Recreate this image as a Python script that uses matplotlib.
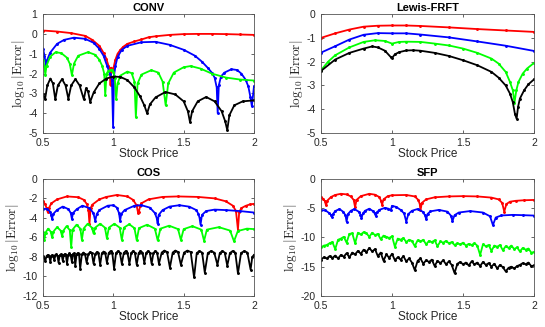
import matplotlib
matplotlib.use("Agg")
import matplotlib.pyplot as plt
import numpy as np

plt.rcParams['font.family'] = ['Liberation Sans', 'DejaVu Sans']
plt.rcParams['mathtext.fontset'] = 'cm'
plt.rcParams['axes.unicode_minus'] = False

# ---------------- CONV
conv_red_x = [0.5, 0.6, 0.7, 0.8, 0.85, 0.9, 0.93, 0.95, 0.965, 0.975, 0.98, 0.985, 0.99, 1.0, 1.013,
              1.03, 1.05, 1.07, 1.1, 1.15, 1.2, 1.25, 1.3, 1.4, 1.5, 1.6, 1.7, 1.8, 1.9, 2.0]
conv_red_y = [0.17, 0.12, 0.04, -0.1, -0.3, -0.6, -0.95, -1.25, -1.6, -1.75, -2.6, -1.7, -1.8, -1.75, -1.33,
              -1.0, -0.8, -0.65, -0.5, -0.38, -0.28, -0.17, -0.12, -0.05, -0.01, 0.0, 0.0, -0.01, -0.03, -0.05]

conv_blue_x = [0.5, 0.51, 0.52, 0.53, 0.55, 0.6, 0.65, 0.72, 0.8, 0.86, 0.9, 0.93, 0.955, 0.975, 0.99,
               0.998, 1.005, 1.015, 1.03, 1.06, 1.1, 1.2, 1.3, 1.4, 1.5, 1.58, 1.63, 1.67, 1.7, 1.72,
               1.735, 1.742, 1.75, 1.765, 1.79, 1.84, 1.88, 1.91, 1.94, 1.96, 1.975, 1.985, 2.0]
conv_blue_y = [-0.74, -1.1, -1.55, -1.3, -0.95, -0.5, -0.3, -0.19, -0.25, -0.45, -0.75, -1.1, -1.6, -2.0, -2.3,
               -4.7, -2.1, -1.6, -1.16, -0.8, -0.6, -0.42, -0.4, -0.55, -0.8, -1.1, -1.4, -1.7, -1.95, -2.2,
               -2.7, -4.0, -2.6, -2.15, -1.95, -1.78, -1.82, -2.0, -2.3, -2.65, -3.2, -3.65, -2.65]

conv_green_x = [0.5, 0.508, 0.516, 0.525, 0.55, 0.59, 0.63, 0.67, 0.69, 0.705, 0.72, 0.75, 0.82, 0.87, 0.9,
                0.92, 0.935, 0.942, 0.952, 0.965, 0.977, 0.99, 1.0, 1.01, 1.02, 1.03, 1.05, 1.1, 1.13, 1.15,
                1.16, 1.172, 1.2, 1.27, 1.32, 1.35, 1.372, 1.39, 1.43, 1.5, 1.55, 1.62, 1.7, 1.8, 1.9, 2.0]
conv_green_y = [-1.3, -1.6, -2.05, -1.6, -1.15, -0.92, -0.97, -1.2, -1.5, -2.08, -1.5, -1.1, -0.92, -1.05, -1.3,
                -1.6, -2.0, -3.1, -2.0, -1.85, -1.83, -1.8, -1.9, -2.2, -3.27, -2.5, -2.1, -1.9, -1.98, -2.4,
                -4.2, -2.5, -2.05, -1.83, -1.95, -2.4, -3.6, -2.5, -1.95, -1.68, -1.62, -1.75, -2.0, -2.2, -2.3, -2.35]

conv_black_x = [0.5, 0.514, 0.53, 0.552, 0.57, 0.587, 0.605, 0.635, 0.66, 0.68, 0.7, 0.73, 0.76, 0.79, 0.805,
                0.82, 0.835, 0.86, 0.9, 0.95, 1.0, 1.05, 1.1, 1.15, 1.19, 1.22, 1.24, 1.26, 1.3, 1.37,
                1.44, 1.5, 1.53, 1.545, 1.56, 1.6, 1.66, 1.72, 1.77, 1.795, 1.81, 1.825, 1.86, 1.92, 2.0]
conv_black_y = [-3.05, -3.3, -2.6, -2.25, -2.5, -3.3, -2.6, -2.28, -2.6, -3.27, -2.6, -2.28, -2.6, -3.3, -2.75,
                -2.9, -3.43, -2.95, -2.5, -2.25, -2.15, -2.17, -2.33, -2.7, -3.15, -3.6, -4.0, -3.55, -3.2, -2.93,
                -3.05, -3.4, -3.9, -4.45, -3.9, -3.4, -3.18, -3.4, -3.9, -4.4, -4.85, -4.1, -3.6, -3.4, -3.35]

# ---------------- Lewis-FRFT
lew_rb_x = [0.5, 0.6, 0.7, 0.8, 0.9, 1.0, 1.1, 1.2, 1.4, 1.6, 1.8, 2.0]
lew_red_y = [-1.0, -0.81, -0.65, -0.53, -0.49, -0.48, -0.48, -0.5, -0.56, -0.63, -0.69, -0.75]
lew_blue_y = [-1.62, -1.35, -1.07, -0.87, -0.8, -0.81, -0.81, -0.86, -0.98, -1.15, -1.33, -1.55]

lew_green_x = [0.5, 0.55, 0.6, 0.7, 0.8, 0.88, 0.95, 1.0, 1.05, 1.1, 1.2, 1.3, 1.4, 1.5, 1.6, 1.7, 1.75,
               1.8, 1.83, 1.85, 1.862, 1.875, 1.89, 1.92, 1.95, 2.0]
lew_green_y = [-2.36, -2.0, -1.73, -1.4, -1.17, -1.1, -1.13, -1.24, -1.17, -1.16, -1.17, -1.24, -1.32, -1.45,
               -1.63, -1.87, -2.08, -2.43, -2.85, -3.2, -3.72, -3.2, -2.85, -2.5, -2.29, -2.05]

lew_black_x = [0.5, 0.6, 0.7, 0.8, 0.86, 0.9, 0.95, 0.99, 1.0, 1.02, 1.05, 1.1, 1.15, 1.2, 1.3, 1.4, 1.5,
               1.6, 1.7, 1.75, 1.8, 1.83, 1.85, 1.865, 1.877, 1.887, 1.9, 1.93, 1.96, 2.0]
lew_black_y = [-2.39, -1.91, -1.63, -1.45, -1.36, -1.4, -1.54, -1.8, -1.85, -1.69, -1.6, -1.53, -1.52, -1.54,
               -1.63, -1.76, -1.94, -2.15, -2.43, -2.67, -3.0, -3.34, -3.7, -4.19, -4.4, -3.9, -3.55, -3.2,
               -2.95, -2.74]

# ---------------- COS
cos_red_x = [0.5, 0.515, 0.525, 0.533, 0.541, 0.56, 0.6, 0.67, 0.75, 0.79, 0.812, 0.823, 0.83, 0.838, 0.85,
             0.9, 0.95, 1.025, 1.1, 1.14, 1.165, 1.176, 1.182, 1.19, 1.2, 1.25, 1.35, 1.46, 1.6, 1.72,
             1.8, 1.85, 1.872, 1.886, 1.895, 1.91, 1.94, 1.97, 2.0]
cos_red_y = [-2.3, -2.6, -3.0, -3.4, -3.0, -2.5, -2.1, -1.8, -1.88, -2.15, -2.6, -3.2, -4.6, -3.0, -2.65,
             -2.1, -1.85, -1.65, -1.8, -2.15, -2.7, -3.5, -3.35, -2.8, -2.5, -2.1, -1.85, -1.8, -1.85, -2.0,
             -2.3, -2.75, -3.3, -5.2, -3.4, -3.0, -2.77, -2.62, -2.56]

cos_blue_x = [0.5, 0.53, 0.55, 0.558, 0.564, 0.572, 0.6, 0.64, 0.68, 0.697, 0.705, 0.713, 0.74, 0.78, 0.83,
              0.858, 0.871, 0.882, 0.9, 0.96, 1.0, 1.025, 1.04, 1.048, 1.056, 1.08, 1.15, 1.2, 1.26, 1.295,
              1.308, 1.315, 1.322, 1.35, 1.4, 1.47, 1.54, 1.59, 1.605, 1.613, 1.62, 1.63, 1.66, 1.72, 1.8,
              1.9, 2.0]
cos_blue_y = [-3.05, -3.1, -3.35, -3.7, -4.1, -3.6, -3.18, -2.84, -3.1, -3.5, -4.1, -3.5, -3.1, -2.75, -3.0,
              -3.5, -4.3, -3.6, -3.2, -2.75, -2.7, -2.95, -3.5, -4.3, -3.6, -3.2, -2.75, -2.7, -2.95, -3.5,
              -4.0, -4.6, -3.7, -3.2, -2.84, -2.7, -2.85, -3.2, -3.6, -4.0, -4.7, -3.7, -3.3, -3.15, -3.2,
              -3.3, -3.45]

cos_green_x = [0.5, 0.509, 0.518, 0.536, 0.554, 0.564, 0.574, 0.6, 0.625, 0.635, 0.645, 0.667, 0.69, 0.70,
               0.71, 0.738, 0.765, 0.776, 0.788, 0.817, 0.847, 0.859, 0.871, 0.906, 0.94, 0.954, 0.968,
               1.007, 1.045, 1.06, 1.075, 1.113, 1.15, 1.166, 1.182, 1.24, 1.295, 1.315, 1.335, 1.397,
               1.46, 1.48, 1.50, 1.562, 1.625, 1.645, 1.665, 1.75, 1.83, 1.858, 1.885, 1.95, 2.0]
cos_green_y = [-5.4, -6.3, -5.5, -5.1, -5.4, -6.0, -5.4, -4.95, -5.3, -5.85, -5.3, -4.85, -5.25, -7.0,
               -5.2, -4.7, -5.1, -6.25, -5.1, -4.6, -5.0, -5.6, -5.0, -4.6, -5.0, -6.1, -5.0,
               -4.6, -5.0, -6.25, -5.0, -4.65, -5.05, -6.3, -5.05, -4.7, -5.1, -6.3, -5.1, -4.8,
               -5.15, -6.25, -5.15, -4.85, -5.2, -6.35, -5.2, -4.95, -5.3, -6.4, -5.35, -5.1, -5.15]

cos_black_x = [0.5, 0.516, 0.525, 0.534, 0.543, 0.552, 0.559, 0.566, 0.573, 0.58, 0.588, 0.595, 0.603, 0.61,
               0.618, 0.625, 0.633, 0.64, 0.648, 0.655, 0.663, 0.67, 0.679, 0.688, 0.696, 0.705, 0.711,
               0.717, 0.723, 0.729, 0.738, 0.747, 0.756, 0.764, 0.776, 0.787, 0.798, 0.81, 0.822, 0.835,
               0.847, 0.859, 0.871, 0.883, 0.894, 0.906, 0.918, 0.93, 0.942, 0.954, 0.967, 0.98, 0.992,
               1.005, 1.019, 1.033, 1.046, 1.06, 1.074, 1.087, 1.1, 1.114, 1.127, 1.14, 1.153, 1.166,
               1.18, 1.193, 1.207, 1.22, 1.233, 1.246, 1.259, 1.272, 1.285, 1.298, 1.311, 1.324, 1.344,
               1.363, 1.382, 1.402, 1.422, 1.441, 1.46, 1.48, 1.503, 1.527, 1.55, 1.574, 1.593, 1.612,
               1.631, 1.65, 1.672, 1.695, 1.717, 1.74, 1.757, 1.775, 1.792, 1.81, 1.829, 1.848, 1.867,
               1.886, 1.908, 1.931, 1.953, 1.976, 1.988, 2.0]
cos_black_y = [-7.9, -8.4, -7.9, -7.8, -7.9, -8.5, -7.9, -7.8, -7.95, -8.3, -7.85, -7.75, -7.9, -8.6,
               -7.85, -7.75, -7.85, -8.4, -7.8, -7.7, -7.85, -8.7, -7.8, -7.65, -7.8, -8.5, -7.75,
               -7.65, -7.8, -8.9, -7.75, -7.6, -7.75, -9.2, -7.75, -7.55, -7.7, -8.6, -7.7, -7.5,
               -7.65, -8.7, -7.7, -7.5, -7.65, -8.8, -7.65, -7.45, -7.6, -8.6, -7.6, -7.4, -7.55,
               -9.2, -7.6, -7.4, -7.55, -8.7, -7.6, -7.4, -7.55, -8.7, -7.6, -7.4, -7.55, -8.8,
               -7.6, -7.4, -7.55, -8.6, -7.6, -7.4, -7.55, -8.7, -7.6, -7.4, -7.55, -8.7, -7.55,
               -7.35, -7.5, -9.1, -7.55, -7.35, -7.5, -8.8, -7.55, -7.35, -7.5, -10.1, -7.6, -7.4,
               -7.55, -9.6, -7.6, -7.4, -7.55, -8.8, -7.6, -7.4, -7.55, -8.9, -7.6, -7.4, -7.55,
               -9.7, -7.6, -7.4, -7.55, -9.3, -8.0, -7.8]

# ---------------- SFP
sfp_red_x = [0.5, 0.515, 0.527, 0.535, 0.545, 0.57, 0.6, 0.64, 0.68, 0.71, 0.73, 0.74, 0.75, 0.78, 0.84,
             0.88, 0.91, 0.922, 0.93, 0.94, 0.97, 1.0, 1.1, 1.16, 1.185, 1.195, 1.2, 1.21, 1.24, 1.3,
             1.4, 1.5, 1.6, 1.7, 1.75, 1.775, 1.79, 1.805, 1.83, 1.87, 1.93, 2.0]
sfp_red_y = [-3.1, -3.4, -3.8, -4.5, -3.7, -3.1, -2.75, -2.55, -2.65, -3.0, -3.6, -4.85, -3.6, -2.95, -2.55,
             -2.7, -3.1, -3.7, -4.4, -3.5, -2.95, -2.8, -2.75, -3.0, -3.6, -4.3, -5.4, -4.1, -3.5, -3.15,
             -3.0, -2.95, -3.0, -3.2, -3.5, -4.1, -5.6, -4.3, -3.9, -3.75, -3.65, -3.6]

sfp_blue_x = [0.5, 0.53, 0.555, 0.568, 0.575, 0.585, 0.6, 0.63, 0.655, 0.672, 0.68, 0.69, 0.71, 0.735, 0.765,
              0.778, 0.785, 0.795, 0.81, 0.84, 0.865, 0.878, 0.885, 0.895, 0.91, 0.95, 0.975, 0.99, 1.0,
              1.03, 1.06, 1.085, 1.1, 1.115, 1.14, 1.18, 1.215, 1.232, 1.24, 1.25, 1.27, 1.33, 1.39,
              1.415, 1.425, 1.44, 1.47, 1.55, 1.64, 1.69, 1.71, 1.73, 1.77, 1.85, 1.92, 2.0]
sfp_blue_y = [-5.4, -5.35, -5.8, -6.1, -6.45, -6.0, -5.5, -5.15, -5.6, -6.2, -7.3, -6.0, -5.45, -5.15, -5.6,
              -6.1, -6.7, -5.9, -5.45, -5.1, -5.5, -5.9, -6.3, -5.7, -5.3, -4.95, -5.1, -5.4, -4.6,
              -4.8, -5.3, -5.9, -7.3, -6.0, -5.45, -5.15, -5.6, -6.2, -6.9, -6.0, -5.55, -5.3, -5.6,
              -6.3, -7.2, -6.2, -5.75, -5.5, -5.75, -6.4, -7.9, -6.6, -6.25, -6.15, -6.2, -6.27]

sfp_x = np.linspace(0.5, 2.0, 76)
sfp_green_y = [-11.7, -11.4, -11.3, -11.0, -10.8, -12.0, -10.4, -10.2, -9.9, -10.9,
               -9.4, -9.3, -11.0, -9.2, -9.5, -9.1, -9.3, -9.9, -9.2, -9.6,
               -9.4, -10.3, -9.7, -9.9, -10.1, -9.8, -11.6, -10.2, -10.4, -10.1,
               -10.8, -10.4, -10.6, -11.5, -10.5, -10.7, -10.4, -11.2, -10.6, -10.8,
               -10.5, -11.5, -10.7, -10.9, -10.6, -11.0, -10.8, -11.3, -11.0, -11.2,
               -10.9, -11.4, -11.1, -11.3, -11.0, -11.4, -13.0, -11.2, -11.5, -11.3,
               -12.3, -11.4, -11.6, -11.3, -12.2, -11.5, -11.8, -11.4, -12.0, -11.7,
               -12.4, -11.8, -12.1, -11.9, -12.6, -12.5]
sfp_black_y = [-13.8, -13.4, -13.6, -13.2, -13.5, -13.1, -13.6, -13.0, -13.3, -12.7,
               -13.4, -12.6, -12.9, -12.3, -12.8, -12.1, -12.5, -11.8, -12.4, -12.0,
               -13.2, -12.6, -14.0, -12.9, -13.5, -12.8, -13.9, -13.4, -13.8, -13.2,
               -14.1, -13.6, -14.3, -15.6, -14.0, -13.6, -14.5, -13.9, -14.2, -13.8,
               -14.9, -14.0, -14.4, -13.9, -14.6, -14.1, -14.7, -16.1, -14.5, -14.2,
               -14.6, -14.3, -14.8, -14.1, -14.6, -14.3, -14.9, -14.2, -14.7, -14.4,
               -15.0, -14.5, -15.3, -14.7, -15.1, -15.8, -15.2, -15.0, -15.3, -14.9,
               -14.7, -14.4, -14.6, -14.3, -14.9, -14.8]

GREEN = '#00ff00'
TXT = '#262626'

fig = plt.figure(figsize=(5.45, 3.27), dpi=100)
pos = {
    'CONV': [0.079, 0.593, 0.387, 0.364],
    'Lewis-FRFT': [0.589, 0.593, 0.391, 0.364],
    'COS': [0.079, 0.095, 0.387, 0.358],
    'SFP': [0.589, 0.095, 0.391, 0.358],
}
ylims = {'CONV': (-5, 1), 'Lewis-FRFT': (-5, 0), 'COS': (-12, 0), 'SFP': (-20, 0)}
yticks = {'CONV': np.arange(-5, 2, 1), 'Lewis-FRFT': np.arange(-5, 1, 1),
          'COS': np.arange(-12, 1, 2), 'SFP': np.arange(-20, 1, 5)}

series = {
    'CONV': [(conv_red_x, conv_red_y, 'r'), (conv_blue_x, conv_blue_y, 'b'),
             (conv_green_x, conv_green_y, GREEN), (conv_black_x, conv_black_y, 'k')],
    'Lewis-FRFT': [(lew_rb_x, lew_red_y, 'r'), (lew_rb_x, lew_blue_y, 'b'),
                   (lew_green_x, lew_green_y, GREEN), (lew_black_x, lew_black_y, 'k')],
    'COS': [(cos_red_x, cos_red_y, 'r'), (cos_blue_x, cos_blue_y, 'b'),
            (cos_green_x, cos_green_y, GREEN), (cos_black_x, cos_black_y, 'k')],
    'SFP': [(sfp_red_x, sfp_red_y, 'r'), (sfp_blue_x, sfp_blue_y, 'b'),
            (sfp_x, sfp_green_y, GREEN), (sfp_x, sfp_black_y, 'k')],
}

for name in ['CONV', 'Lewis-FRFT', 'COS', 'SFP']:
    ax = fig.add_axes(pos[name])
    for xs, ys, c in series[name]:
        ax.plot(xs, ys, '-', color=c, lw=1.3, marker='.', ms=2.2)
    ax.set_xlim(0.5, 2)
    ax.set_ylim(*ylims[name])
    ax.set_xticks([0.5, 1, 1.5, 2])
    ax.set_xticklabels(['0.5', '1', '1.5', '2'])
    ax.set_yticks(yticks[name])
    ax.tick_params(direction='in', top=True, right=True, length=2.5, width=0.5,
                   labelsize=7.5, colors=TXT)
    ax.tick_params(axis='x', pad=3.5)
    ax.tick_params(axis='y', pad=4)
    for sp in ax.spines.values():
        sp.set_linewidth(0.6)
        sp.set_color('#555555')
    ax.set_title(name, fontsize=8, fontweight='bold', pad=2, color='black')
    ax.set_xlabel('Stock Price', fontsize=8.5, labelpad=0, color=TXT)
    ax.set_ylabel(r'$\log_{10}|\mathrm{Error}|$', fontsize=9.5, labelpad=1, color=TXT)

fig.savefig('out.png', dpi=100)
